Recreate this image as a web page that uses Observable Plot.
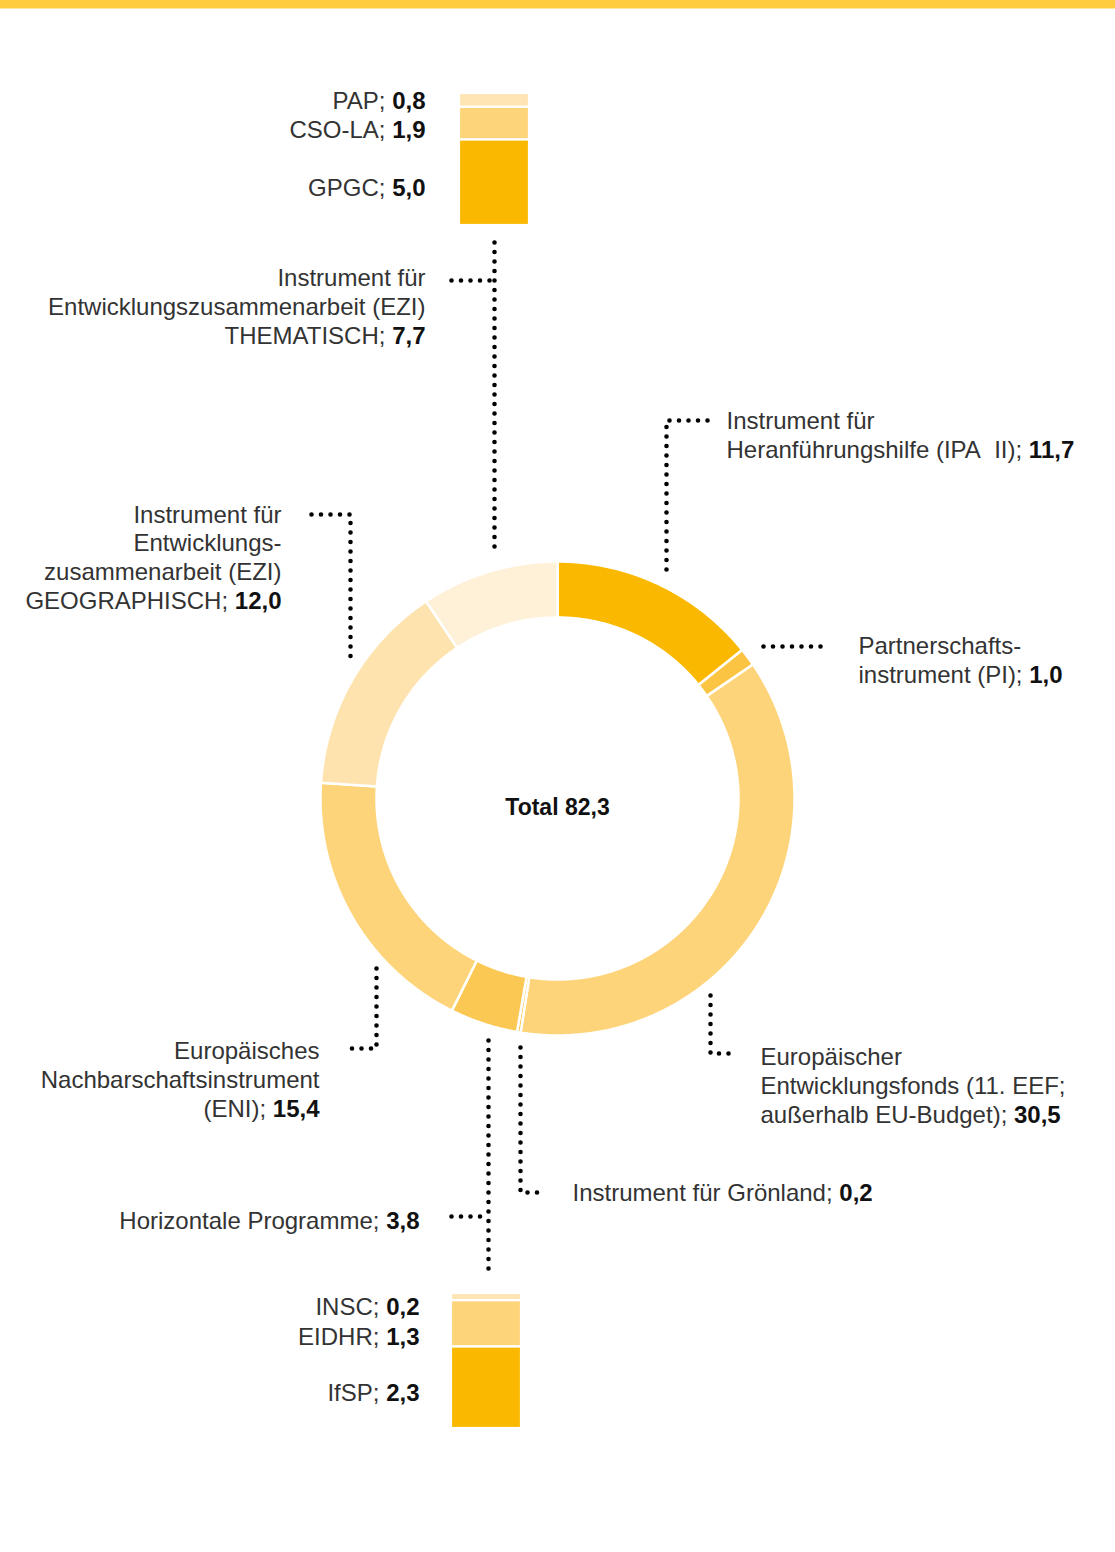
<!DOCTYPE html>
<html><head><meta charset="utf-8">
<script src="https://cdn.jsdelivr.net/npm/d3@7"></script>
<script src="https://cdn.jsdelivr.net/npm/@observablehq/plot@0.6"></script>
<style>
body{margin:0;background:#fff;}
#chart{position:relative;width:1115px;height:1552px;overflow:hidden;font-family:"Liberation Sans",Arial,sans-serif;}
#stripe{position:absolute;left:0;top:0;width:1115px;height:8px;background:#FFCC3F;border-bottom:1px solid #FFE7A0;}
#chart svg{position:absolute;}
</style></head><body><div id="chart"><div id="stripe"></div></div>
<script>
// ---- data ----
const sliceNames = [
  "Instrument für\nHeranführungshilfe (IPA\u00a0 II)",
  "Partnerschafts-\ninstrument (PI)",
  "Europäischer\nEntwicklungsfonds (11. EEF;\naußerhalb EU-Budget)",
  "Instrument für Grönland",
  "Horizontale Programme",
  "Europäisches\nNachbarschaftsinstrument\n(ENI)",
  "Instrument für\nEntwicklungs-\nzusammenarbeit (EZI)\nGEOGRAPHISCH",
  "Instrument für\nEntwicklungszusammenarbeit (EZI)\nTHEMATISCH"
];
const sliceValues = [11.7, 1.0, 30.5, 0.2, 3.8, 15.4, 12.0, 7.7];
const topNames = ["PAP", "CSO-LA", "GPGC"];
const topValues = [0.8, 1.9, 5.0];
const bottomNames = ["INSC", "EIDHR", "IfSP"];
const bottomValues = [0.2, 1.3, 2.3];

// ---- styles ----
const sliceColors = ["#FAB900", "#FBC443", "#FED47B", "#FBC443", "#FCC854", "#FED47B", "#FEE3AE", "#FFF0D8"];
const stackColors = ["#FFE5B4", "#FED47B", "#FAB900"];
const textColor = "#333";
const fontFamily = "'Liberation Sans', Arial, sans-serif";

// ---- layout ----
const W = 1115, H = 1552;
const donut = {cx: 557, cy: 798, r0: 181, r1: 237};
const sliceLabelPos = [
  {x: 726, y: 434, anchor: "start"},
  {x: 858, y: 659, anchor: "start"},
  {x: 760, y: 1084, anchor: "start"},
  {x: 572, y: 1191, anchor: "start"},
  {x: 419, y: 1219, anchor: "end"},
  {x: 319, y: 1078, anchor: "end"},
  {x: 281, y: 556, anchor: "end"},
  {x: 425, y: 305, anchor: "end"}
];
const topLabelPos = [{x: 425, y: 99}, {x: 425, y: 128}, {x: 425, y: 186}];
const bottomLabelPos = [{x: 419, y: 1305}, {x: 419, y: 1335}, {x: 419, y: 1391}];
const totalPos = {x: 557, y: 807};
const topBarBox = {left: 459, top: 93, width: 70, height: 132};
const bottomBarBox = {left: 451, top: 1293, width: 70, height: 135};
const leaders = [
  [[707, 420], [666, 420], [666, 573]],
  [[763, 646], [828, 646]],
  [[710, 995], [710, 1053], [733, 1053]],
  [[520, 1047], [520, 1192], [543, 1192]],
  [[488, 1040], [488, 1277]],
  [[451, 1216], [488, 1216]],
  [[376, 968], [376, 1048], [349, 1048]],
  [[311, 514], [350, 514], [350, 657]],
  [[494, 242], [494, 552]],
  [[451, 280], [494, 280]]
];

const fmt = v => d3.format(".1f")(v).replace(".", ",");

// donut polygons from pie angles
const arcs = d3.pie().sort(null).value(d => d)(sliceValues);
const donutPts = arcs.flatMap((a, i) => {
  const n = Math.max(2, Math.ceil((a.endAngle - a.startAngle) / 0.005));
  const pts = [];
  for (let k = 0; k <= n; k++) {
    const t = a.startAngle + (a.endAngle - a.startAngle) * k / n;
    pts.push({i, color: sliceColors[i], px: donut.cx + donut.r1 * Math.sin(t), py: donut.cy - donut.r1 * Math.cos(t)});
  }
  for (let k = n; k >= 0; k--) {
    const t = a.startAngle + (a.endAngle - a.startAngle) * k / n;
    pts.push({i, color: sliceColors[i], px: donut.cx + donut.r0 * Math.sin(t), py: donut.cy - donut.r0 * Math.cos(t)});
  }
  return pts;
});

const sliceLabels = sliceNames.map((n, i) => ({...sliceLabelPos[i], text: `${n}; ${fmt(sliceValues[i])}`}));
const stackLabels = [
  ...topNames.map((n, i) => ({...topLabelPos[i], text: `${n}; ${fmt(topValues[i])}`})),
  ...bottomNames.map((n, i) => ({...bottomLabelPos[i], text: `${n}; ${fmt(bottomValues[i])}`}))
];
const allEnd = [...sliceLabels.filter(d => d.anchor === "end"), ...stackLabels];
const allStart = sliceLabels.filter(d => d.anchor === "start");
const leaderPts = leaders.flatMap((pts, id) => pts.map(([x, y]) => ({id, x, y})));

const textOpts = {x: "x", y: "y", text: "text", fontSize: 24, lineHeight: 1.2, lineAnchor: "middle", fill: textColor};

const main = Plot.plot({
  width: W, height: H, margin: 0,
  style: {fontFamily, fontSize: "24px", background: "transparent"},
  x: {domain: [0, W], range: [0, W], axis: null},
  y: {domain: [0, H], range: [0, H], axis: null},
  color: {type: "identity"},
  marks: [
    Plot.line(donutPts, {x: "px", y: "py", z: "i", fill: "color", stroke: "white", strokeWidth: 2.5, curve: "linear-closed"}),
    Plot.line(leaderPts, {x: "x", y: "y", z: "id", stroke: "#000", strokeWidth: 4.6, strokeDasharray: "0 9.5", strokeLinecap: "round", strokeLinejoin: "round"}),
    Plot.text(allEnd, {...textOpts, textAnchor: "end"}),
    Plot.text(allStart, {...textOpts, textAnchor: "start"}),
    Plot.text([totalPos], {x: "x", y: "y", text: () => `Total ${fmt(d3.sum(sliceValues))}`, fontSize: 23, fontWeight: "bold", fill: "#111", textAnchor: "middle"})
  ]
});
main.style.left = "0px"; main.style.top = "0px";

// bold the value after the last "; "
for (const t of main.querySelectorAll("text")) {
  const spans = t.querySelectorAll("tspan");
  const el = spans.length ? spans[spans.length - 1] : t;
  const s = el.textContent;
  const k = s.lastIndexOf("; ");
  if (k < 0) continue;
  el.textContent = s.slice(0, k + 2);
  const b = document.createElementNS("http://www.w3.org/2000/svg", "tspan");
  b.setAttribute("font-weight", "bold");
  b.setAttribute("fill", "#111");
  b.textContent = s.slice(k + 2);
  el.appendChild(b);
}

function stackBar(names, values, box) {
  const data = names.map((n, i) => ({n, v: values[i], c: stackColors[i]}));
  const svg = Plot.plot({
    width: box.width, height: box.height, margin: 0,
    style: {background: "transparent"},
    x: {axis: null},
    y: {domain: [0, d3.sum(values)], axis: null},
    color: {type: "identity"},
    marks: [Plot.barY(data, {y: "v", fill: "c", stroke: "white", strokeWidth: 2.2, reverse: true})]
  });
  svg.style.left = box.left + "px"; svg.style.top = box.top + "px";
  return svg;
}

const chart = document.getElementById("chart");
chart.appendChild(main);
chart.appendChild(stackBar(topNames, topValues, topBarBox));
chart.appendChild(stackBar(bottomNames, bottomValues, bottomBarBox));
</script></body></html>
